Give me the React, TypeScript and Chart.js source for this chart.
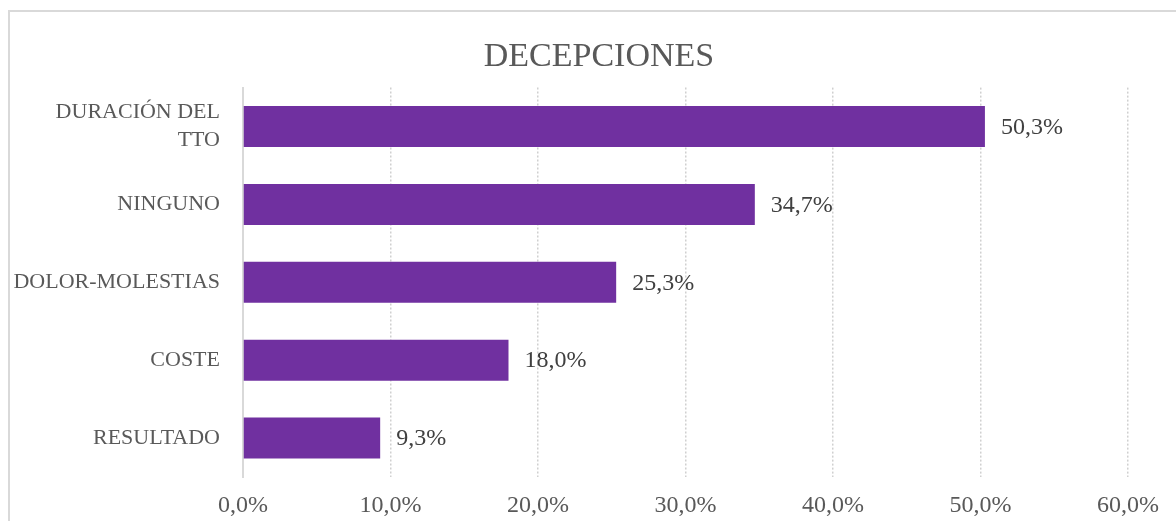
import React, { useEffect, useRef } from "react";
import { Chart, registerables } from "chart.js";

Chart.register(...registerables);

const categories: (string | string[])[] = [
  ["DURACIÓN DEL", "TTO"],
  "NINGUNO",
  "DOLOR-MOLESTIAS",
  "COSTE",
  "RESULTADO",
];
const values: number[] = [50.3, 34.7, 25.3, 18.0, 9.3];
const xTickMax = 60;
const xTickStep = 10;
const chartTitle = "DECEPCIONES";

const FONT = "'Liberation Serif', 'Times New Roman', serif";

const fmt = (v: number) => v.toFixed(1).replace(".", ",") + "%";

const dataLabels = {
  id: "dataLabels",
  afterDatasetsDraw(chart: any) {
    const ctx = chart.ctx;
    const meta = chart.getDatasetMeta(0);
    ctx.save();
    ctx.font = `24px ${FONT}`;
    ctx.fillStyle = "#404040";
    ctx.textAlign = "left";
    ctx.textBaseline = "middle";
    meta.data.forEach((el: any, i: number) => {
      ctx.fillText(fmt(values[i]), el.x + 16, el.y + 1);
    });
    ctx.restore();
  },
};

const titlePlugin = {
  id: "boxTitle",
  afterDraw(chart: any) {
    const ctx = chart.ctx;
    ctx.save();
    ctx.font = `34px ${FONT}`;
    ctx.fillStyle = "#595959";
    ctx.textAlign = "center";
    ctx.textBaseline = "middle";
    ctx.fillText(chartTitle, 599, 57);
    ctx.restore();
  },
};

export default function App() {
  const ref = useRef<HTMLCanvasElement | null>(null);

  useEffect(() => {
    if (!ref.current) return;
    const chart = new Chart(ref.current, {
      type: "bar",
      data: {
        labels: categories,
        datasets: [
          {
            data: values,
            backgroundColor: "#7030A0",
            borderWidth: 0,
            barPercentage: 0.526,
            categoryPercentage: 1,
          },
        ],
      },
      options: {
        indexAxis: "y",
        animation: false,
        responsive: false,
        maintainAspectRatio: false,
        layout: { padding: { left: 10, right: 48, top: 87.6, bottom: 0 } },
        plugins: {
          legend: { display: false },
          tooltip: { enabled: false },
          title: { display: false },
        },
        scales: {
          x: {
            min: 0,
            max: xTickMax,
            ticks: {
              stepSize: xTickStep,
              callback: (v: any) => fmt(Number(v)),
              color: "#595959",
              font: { family: FONT, size: 24 },
              padding: 14,
              maxRotation: 0,
            },
            grid: {
              color: "#d0d0d0",
              lineWidth: 1.5,
              drawTicks: false,
            },
            border: { display: false, dash: [2, 2] },
            afterFit: (s: any) => {
              s.height = 44;
              s.paddingLeft = 0;
              s.paddingRight = 0;
            },
          },
          y: {
            ticks: {
              color: "#595959",
              font: { family: FONT, size: 22, lineHeight: 1.27 },
              padding: 23,
            },
            grid: { display: false, drawTicks: false },
            border: { display: true, color: "#d9d9d9", width: 2 },
            afterFit: (s: any) => {
              s.width = 233;
              s.paddingTop = 0;
              s.paddingBottom = 0;
            },
          },
        },
      },
      plugins: [dataLabels, titlePlugin],
    } as any);
    (chart.options.scales as any).x.grid.borderDash = [2, 2];
    (chart.options.scales as any).x.border.dash = [2, 2];
    chart.update();
    return () => chart.destroy();
  }, []);

  return (
    <>
      <div
        style={{
          position: "fixed",
          left: 8,
          top: 10,
          width: 1200,
          height: 540,
          border: "2px solid #d9d9d9",
          boxSizing: "border-box",
          background: "#fff",
        }}
      />
      <canvas
        ref={ref}
        width={1176}
        height={521}
        style={{ position: "fixed", left: 0, top: 0, width: 1176, height: 521 }}
      />
    </>
  );
}
